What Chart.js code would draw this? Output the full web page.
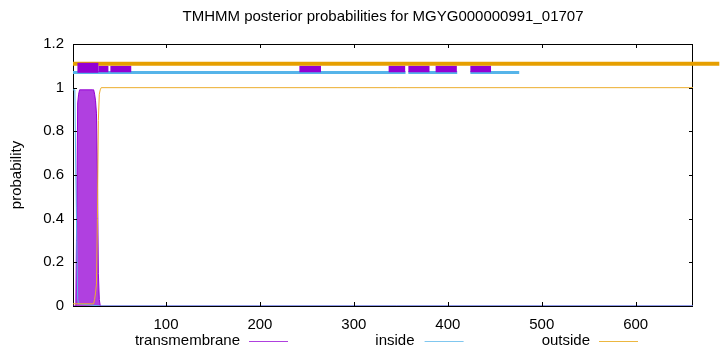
<!DOCTYPE html>
<html>
<head>
<meta charset="utf-8">
<title>TMHMM posterior probabilities</title>
<script src="https://cdn.jsdelivr.net/npm/chart.js@4/dist/chart.umd.min.js"></script>
<style>
  html, body { margin: 0; padding: 0; background: #fff; }
  canvas { display: block; }
</style>
</head>
<body>
<canvas id="myChart" width="720" height="352"></canvas>
<script>
// sequence / axes
var seqStart = 1;
var seqEnd = 661;
var xTicks = [100, 200, 300, 400, 500, 600];
var yTicks = [0, 0.2, 0.4, 0.6, 0.8, 1, 1.2];

// posterior probabilities (residue, probability)
var tmX = [1, 4, 5, 6, 7, 8, 22, 23, 24, 25, 26, 27, 28, 29, 30, 661];
var tmY = [0, 0, 0.45, 0.93, 0.97, 0.99, 0.99, 0.99, 0.97, 0.94, 0.88, 0.6, 0.15, 0.03, 0, 0];
var insideX = [1, 3, 4, 5, 6, 7, 30, 661];
var insideY = [0.99, 0.99, 0.6, 0.3, 0.03, 0.01, 0, 0];
var outsideX = [1, 23, 24, 25, 26, 27, 28, 29, 30, 31, 661];
var outsideY = [0.01, 0.01, 0.03, 0.06, 0.1, 0.4, 0.85, 0.97, 0.99, 1, 1];

// predicted topology drawn above the curves (residue ranges)
var tmFirstBox = [[5.7, 28]];
var tmBoxes = [[28, 38.7], [40.8, 63], [242, 265], [337, 354.6], [358, 380.5], [387, 409.6], [424, 446]];
var insideSegs = [[1, 355], [358, 410], [424, 476]];
var outsideSegs = [[1, 689]];
var tmFirstLevel = 1.091;
var tmLevel = 1.086;
var insideLevel = 1.07;
var outsideLevel = 1.109;

var legendNames = ['transmembrane', 'inside', 'outside'];
var purple = '#9400D3';
var blue = '#56B4E9';
var orange = '#E69F00';

function pairs(xs, ys) {
  return xs.map(function (x, i) { return { x: x, y: ys[i] }; });
}
function segs(list, level) {
  var pts = [];
  list.forEach(function (s) {
    pts.push({ x: s[0], y: level }, { x: s[1], y: level }, { x: s[1], y: null });
  });
  return pts;
}

var FONT = "'Liberation Sans', Arial, sans-serif";
var FSIZE = 15;

var decor = {
  id: 'decor',
  beforeDatasetsDraw: function (chart) {
    var c = chart.ctx, a = chart.chartArea;
    c.save();
    c.strokeStyle = '#000';
    c.lineWidth = 1;
    c.strokeRect(a.left + 0.5, a.top + 0.5, a.right - a.left - 1, a.bottom - a.top);
    c.restore();
  },
  afterDraw: function (chart) {
    var c = chart.ctx, a = chart.chartArea;
    var xs = chart.scales.x, ys = chart.scales.y;
    c.save();
    // inward ticks
    c.strokeStyle = '#000';
    c.lineWidth = 1;
    c.beginPath();
    xTicks.forEach(function (t) {
      var px = Math.round(xs.getPixelForValue(t)) + 0.5;
      c.moveTo(px, a.bottom); c.lineTo(px, a.bottom - 4);
      c.moveTo(px, a.top); c.lineTo(px, a.top + 4);
    });
    yTicks.forEach(function (t) {
      var py = Math.round(ys.getPixelForValue(t)) + 0.5;
      c.moveTo(a.left, py); c.lineTo(a.left + 4, py);
      c.moveTo(a.right, py); c.lineTo(a.right - 4, py);
    });
    c.stroke();

    // title
    c.fillStyle = '#000';
    c.font = FSIZE + 'px ' + FONT;
    c.textAlign = 'center';
    c.textBaseline = 'middle';
    c.fillText('TMHMM posterior probabilities for MGYG000000991_01707', (a.left + a.right) / 2, 17);

    // y title
    c.save();
    c.translate(17, (a.top + a.bottom) / 2);
    c.rotate(-Math.PI / 2);
    c.fillText('probability', 0, 0);
    c.restore();

    // legend: text then line sample
    var textRight = [240, 414.5, 590];
    var lineStart = [249, 424.6, 599];
    var cols = [purple, blue, orange];
    c.textAlign = 'right';
    for (var i = 0; i < legendNames.length; i++) {
      c.fillStyle = '#000';
      c.fillText(legendNames[i], textRight[i], 341);
      c.strokeStyle = cols[i];
      c.globalAlpha = 0.75;
      c.beginPath();
      c.moveTo(lineStart[i], 341.5);
      c.lineTo(lineStart[i] + 39, 341.5);
      c.stroke();
      c.globalAlpha = 1;
    }
    c.restore();
  }
};

var ctx = document.getElementById('myChart').getContext('2d');

var myChart = new Chart(ctx, {
  type: 'line',
  data: {
    datasets: [
      { label: 'tm-first', data: segs(tmFirstBox, tmFirstLevel), borderColor: purple, borderWidth: 10 },
      { label: 'outside-bar', data: segs(outsideSegs, outsideLevel), borderColor: orange, borderWidth: 4, clip: false },
      { label: 'tm-boxes', data: segs(tmBoxes, tmLevel), borderColor: purple, borderWidth: 6.5 },
      { label: 'inside-bar', data: segs(insideSegs, insideLevel), borderColor: blue, borderWidth: 3 },
      { label: 'outside', data: pairs(outsideX, outsideY), borderColor: '#EDAE2E', borderWidth: 1 },
      { label: 'inside', data: pairs(insideX, insideY), borderColor: blue, borderWidth: 1 },
      { label: 'transmembrane', data: pairs(tmX, tmY), borderColor: purple, borderWidth: 1,
        fill: 'origin', backgroundColor: '#B040E0' }
    ]
  },
  options: {
    responsive: false,
    animation: false,
    devicePixelRatio: 1,
    layout: { padding: { left: 0, top: 44, right: 27, bottom: 0 } },
    elements: {
      point: { radius: 0 },
      line: { tension: 0, borderCapStyle: 'butt', fill: false }
    },
    spanGaps: false,
    plugins: {
      legend: { display: false },
      title: { display: false },
      tooltip: { enabled: false }
    },
    scales: {
      x: {
        type: 'linear',
        min: seqStart,
        max: seqEnd,
        grid: { display: false, drawTicks: false },
        border: { display: false },
        afterBuildTicks: function (s) { s.ticks = xTicks.map(function (v) { return { value: v }; }); },
        afterFit: function (s) { s.height = 46; },
        ticks: { color: '#000', font: { family: FONT, size: FSIZE }, padding: 10, maxRotation: 0,
          callback: function (v) { return String(v); } }
      },
      y: {
        type: 'linear',
        min: 0,
        max: 1.2,
        grid: { display: false, drawTicks: false },
        border: { display: false },
        afterBuildTicks: function (s) { s.ticks = yTicks.map(function (v) { return { value: v }; }); },
        afterFit: function (s) { s.width = 73; },
        ticks: { color: '#000', font: { family: FONT, size: FSIZE }, padding: 9,
          callback: function (v) { return String(v); } }
      }
    }
  },
  plugins: [decor]
});
</script>
</body>
</html>
